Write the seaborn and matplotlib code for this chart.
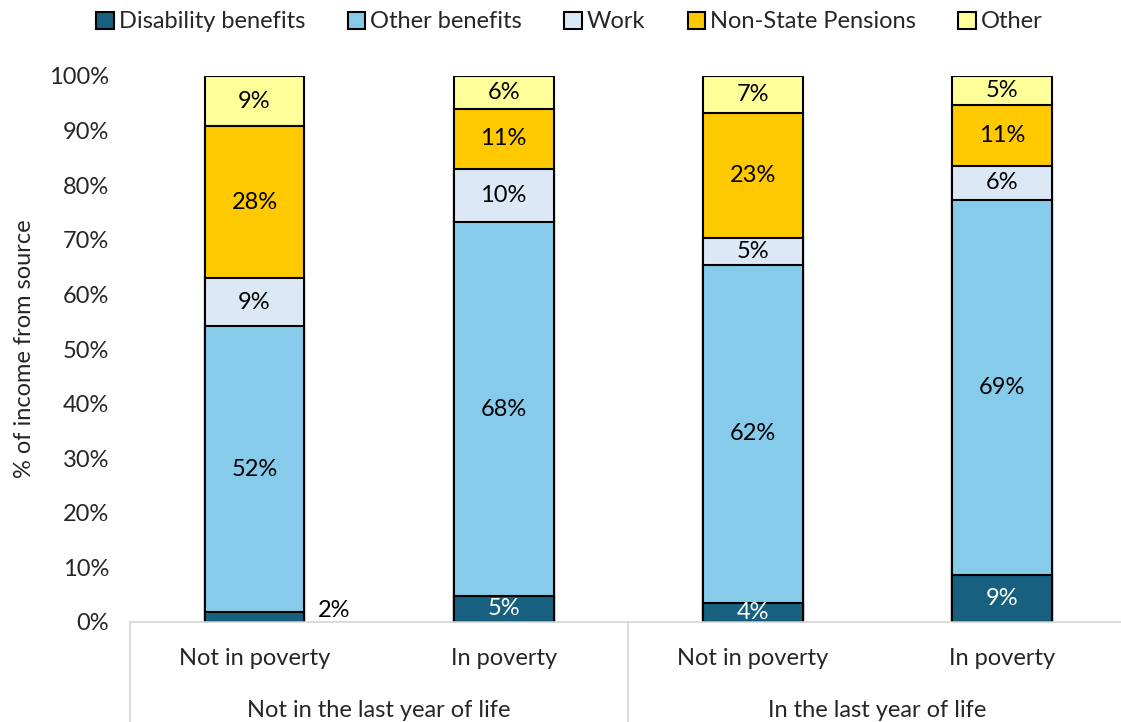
import numpy as np
import pandas as pd
import matplotlib
matplotlib.use("Agg")
import matplotlib.pyplot as plt
import matplotlib.transforms as mtransforms
from matplotlib.patches import Patch
import seaborn as sns

# Income shares (%) by source, per group
groups = ["Not in the last year of life", "In the last year of life"]
categories = ["Not in poverty", "In poverty", "Not in poverty", "In poverty"]
sources = ["Disability benefits", "Other benefits", "Work", "Non-State Pensions", "Other"]
disability = [1.8, 4.8, 3.5, 8.6]
other_benefits = [52.4, 68.4, 61.9, 68.7]
work = [8.8, 9.8, 4.9, 6.3]
non_state = [27.8, 11.0, 22.9, 11.0]
other = [9.2, 6.0, 6.8, 5.4]
y_ticks = [0, 10, 20, 30, 40, 50, 60, 70, 80, 90, 100]

colors = ["#17607F", "#87CBEB", "#DCE8F5", "#FFC900", "#FFFF99"]
text_colors = ["white", "black", "black", "black", "black"]
FS = 17

sns.set_theme(style="white")
plt.rcParams["font.family"] = ["Lato", "DejaVu Sans"]

series = [disability, other_benefits, work, non_state, other]
keys = [f"{g}|{c}" for g, c in zip([groups[0]] * 2 + [groups[1]] * 2, categories)]
cum = np.cumsum(np.array(series), axis=0)

fig = plt.figure(figsize=(11.21, 7.22), dpi=100)
ax = fig.add_axes([130 / 1121, 100 / 722, 991 / 1121, 546 / 722])

# stacked bars: draw cumulative totals from the top layer down
for i in range(len(sources) - 1, -1, -1):
    df = pd.DataFrame({"key": keys, "total": cum[i]})
    sns.barplot(data=df, x="key", y="total", order=keys, color=colors[i],
                saturation=1, width=0.40, edgecolor="black", linewidth=1.5,
                ax=ax, zorder=3)

# value labels
for i, vals in enumerate(series):
    for j, v in enumerate(vals):
        lbl = f"{round(v):.0f}%"
        bottom = cum[i][j] - v
        if v < 3:
            ax.text(j + 0.32, cum[i][j] + 0.3, lbl, ha="center", va="center",
                    fontsize=FS, color="black", zorder=5)
        else:
            ax.text(j, bottom + v / 2, lbl, ha="center", va="center",
                    fontsize=FS, color=text_colors[i], zorder=5)

ax.set_xlim(-0.5, 3.478)
ax.set_ylim(0, 100)
ax.set_yticks(y_ticks)
ax.set_yticklabels([f"{t}%" for t in y_ticks], fontsize=FS)
ax.set_xticks(range(4))
ax.set_xticklabels(categories, fontsize=FS)
ax.tick_params(axis="x", length=0, pad=19)
ax.tick_params(axis="y", length=0, pad=15)
ax.set_xlabel("")
ax.set_ylabel("% of income from source", fontsize=FS, labelpad=10)

for s in ["left", "right", "top"]:
    ax.spines[s].set_visible(False)
ax.spines["bottom"].set_color("#D4D4D4")
ax.spines["bottom"].set_linewidth(1.2)
ax.spines["bottom"].set_zorder(4)

# group separators and group labels below the axis
trans = mtransforms.blended_transform_factory(ax.transData, ax.transAxes)
for xs in [-0.5, 1.5, 3.5]:
    ax.plot([xs, xs], [0, -0.2], color="#D4D4D4", lw=1.2, transform=trans,
            clip_on=False)
for k, g in enumerate(groups):
    ax.text(0.5 + 2 * k, -0.162, g, transform=trans, ha="center", va="center",
            fontsize=FS)

handles = [Patch(facecolor=c, edgecolor="black", linewidth=1.5) for c in colors]
fig.legend(handles, sources, loc="center", bbox_to_anchor=(0.508, 1 - 22 / 722),
           ncol=5, frameon=False, fontsize=FS, handlelength=0.75, handleheight=0.75,
           handletextpad=0.2, columnspacing=1.8)

fig.savefig("out.png", dpi=100)
